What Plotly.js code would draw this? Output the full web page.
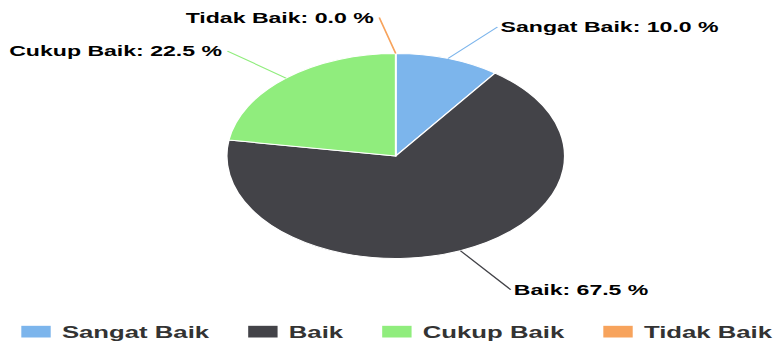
<!DOCTYPE html>
<html><head><meta charset="utf-8">
<script src="https://cdn.plot.ly/plotly-3.0.1.min.js"></script>
<style>
html,body{margin:0;padding:0;background:#fff;overflow:hidden;width:775px;height:349px;}
#chart{position:relative;left:-9px;width:490px;height:349px;transform:scaleX(1.6489);transform-origin:0 0;}
</style></head><body>
<div id="chart"></div>
<script>
// ---- data ----
const categories = ['Sangat Baik', 'Baik', 'Cukup Baik', 'Tidak Baik'];
const percentValues = [10.0, 67.5, 22.5, 0.0];
const sliceColors = ['#7cb5ec', '#434348', '#90ed7d', '#f7a35c'];

// ---- layout constants (inner, unstretched px) ----
const S = 1.6489, SHIFT = 9;
const W = 490, H = 349;
const cx = 240 + SHIFT / S, cy = 156, R = 102.5;
const labelOffsets = [[30, -31.5, 'left'], [30.5, 39, 'left'], [-35.5, -27, 'right'], [-10, -36, 'right']];
const FONT = 'Liberation Sans, Arial, Helvetica, sans-serif';

const total = percentValues.reduce((a, b) => a + b, 0);
let cum = 0;
const annotations = categories.map((c, i) => {
  const mid = (cum + percentValues[i] / 2) / total * 2 * Math.PI;
  cum += percentValues[i];
  const px = cx + R * Math.sin(mid), py = cy - R * Math.cos(mid);
  return {
    x: px / W, y: 1 - py / H, xref: 'paper', yref: 'paper',
    text: c + ': ' + percentValues[i].toFixed(1) + ' %',
    showarrow: true, arrowhead: 0, arrowwidth: 1, arrowcolor: sliceColors[i],
    ax: labelOffsets[i][0], ay: labelOffsets[i][1], xanchor: labelOffsets[i][2],
    font: {family: FONT, size: 14, color: '#000000', weight: 700}
  };
});

const trace = {
  type: 'pie', labels: categories, values: percentValues,
  marker: {colors: sliceColors, line: {color: '#ffffff', width: 1}},
  sort: false, direction: 'clockwise', rotation: 0,
  textinfo: 'none', hoverinfo: 'label+percent',
  domain: {x: [(cx - R) / W, (cx + R) / W], y: [1 - (cy + R) / H, 1 - (cy - R) / H]}
};

const layout = {
  width: W, height: H,
  margin: {l: 0, r: 0, t: 0, b: 0},
  paper_bgcolor: '#ffffff',
  showlegend: true,
  legend: {
    orientation: 'h', x: 0, xanchor: 'left', y: (H - 332) / H, yanchor: 'middle',
    itemwidth: 33,
    font: {family: FONT, size: 15.6, color: '#333333', weight: 700}
  },
  annotations: annotations
};

Plotly.newPlot('chart', [trace], layout, {displayModeBar: false, staticPlot: true}).then(gd => {
  gd.querySelectorAll('.legendpoints path').forEach(p => {
    p.setAttribute('transform', 'translate(27.3,0) scale(1.62,1.05)');
  });
});
</script>
</body></html>
